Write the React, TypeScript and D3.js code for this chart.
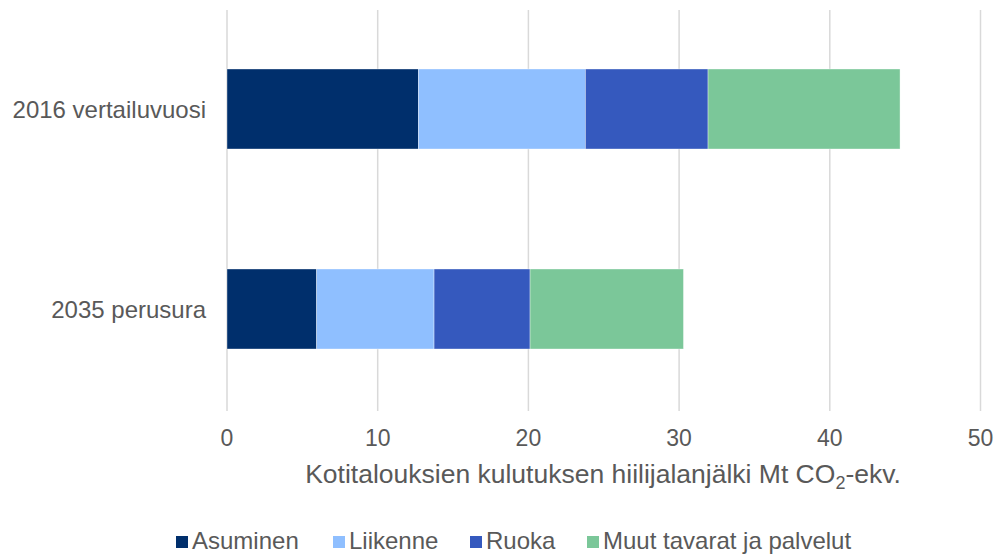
import React from "react";
import * as d3 from "d3";

const categories = ["2016 vertailuvuosi", "2035 perusura"];
const seriesNames = ["Asuminen", "Liikenne", "Ruoka", "Muut tavarat ja palvelut"];
const asuminen = [12.7, 5.95];
const liikenne = [11.08, 7.79];
const ruoka = [8.14, 6.37];
const muut = [12.74, 10.18];
const seriesColors = ["#002F6C", "#8FBFFF", "#3559BE", "#7BC799"];
const xTicks = [0, 10, 20, 30, 40, 50];

const W = 996;
const H = 554;
const FONT = "'Liberation Sans', Arial, sans-serif";
const TEXT = "#595959";

export default function App() {
  const x = d3.scaleLinear().domain([0, 50]).range([227, 980.5]);
  const y = d3
    .scaleBand<string>()
    .domain(categories)
    .range([9, 409])
    .paddingInner(0.6)
    .paddingOuter(0.3);

  const rows = categories.map((c, i) => ({
    cat: c,
    Asuminen: asuminen[i],
    Liikenne: liikenne[i],
    Ruoka: ruoka[i],
    "Muut tavarat ja palvelut": muut[i],
  }));
  const stacked = d3.stack<any>().keys(seriesNames)(rows);

  const legendX = [176, 333, 470, 587];

  return (
    <svg
      width={W}
      height={H}
      style={{ position: "absolute", left: 0, top: 0, background: "#fff" }}
      fontFamily={FONT}
    >
      {xTicks.map((t) => (
        <line
          key={"g" + t}
          x1={x(t)}
          x2={x(t)}
          y1={10}
          y2={411}
          stroke="#D9D9D9"
          strokeWidth={1.5}
        />
      ))}
      {stacked.map((s, si) =>
        s.map((d, i) => (
          <rect
            key={si + "-" + i}
            x={x(d[0])}
            y={y(categories[i])}
            width={x(d[1]) - x(d[0])}
            height={y.bandwidth()}
            fill={seriesColors[si]}
            stroke="#ffffff"
            strokeWidth={0.6}
            strokeOpacity={0.6}
          />
        ))
      )}
      {categories.map((c) => (
        <text
          key={c}
          x={206}
          y={(y(c) as number) + y.bandwidth() / 2}
          textAnchor="end"
          dominantBaseline="central"
          fontSize={24}
          fill={TEXT}
        >
          {c}
        </text>
      ))}
      {xTicks.map((t) => (
        <text
          key={"t" + t}
          x={x(t)}
          y={446}
          textAnchor="middle"
          fontSize={23}
          fill={TEXT}
        >
          {t}
        </text>
      ))}
      <text x={603} y={483} textAnchor="middle" fontSize={26.5} fill={TEXT}>
        Kotitalouksien kulutuksen hiilijalanjälki Mt CO
        <tspan fontSize={18} dy={6}>2</tspan>
        <tspan dy={-6}>-ekv.</tspan>
      </text>
      {seriesNames.map((n, i) => (
        <g key={n}>
          <rect x={legendX[i]} y={536} width={12} height={12} fill={seriesColors[i]} />
          <text x={legendX[i] + 16} y={549} fontSize={24} fill={TEXT}>
            {n}
          </text>
        </g>
      ))}
    </svg>
  );
}
